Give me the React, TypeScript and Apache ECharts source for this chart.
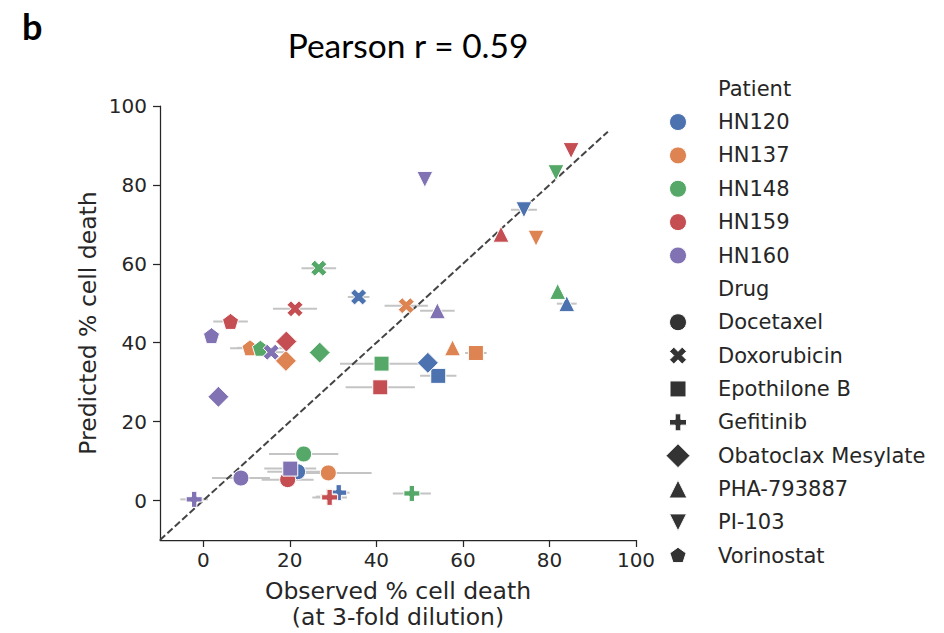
import React, { useEffect, useRef } from "react";
import * as echarts from "echarts";

// ---------------- data ----------------
const patients = ["HN120", "HN137", "HN148", "HN159", "HN160"];
const drugs = [
  "Docetaxel",
  "Doxorubicin",
  "Epothilone B",
  "Gefitinib",
  "Obatoclax Mesylate",
  "PHA-793887",
  "PI-103",
  "Vorinostat",
];
const xTicks = [0, 20, 40, 60, 80, 100];
const yTicks = [0, 20, 40, 60, 80, 100];

// observed (x), predicted (y) and horizontal error (± x) per drug, in the order of `drugs`
const hn120Observed = [21.8, 35.9, 54.3, 31.3, 51.9, 84.0, 74.1, null];
const hn120Predicted = [7.3, 51.6, 31.6, 2.0, 34.9, 49.9, 73.7, null];
const hn120Error = [7, 2.5, 4.2, 2.5, 0, 2.3, 3, 0];

const hn137Observed = [28.9, 46.9, 63.0, 29.0, 19.1, 57.6, 76.9, 10.8];
const hn137Predicted = [7.0, 49.4, 37.4, 1.0, 35.4, 38.7, 66.5, 38.7];
const hn137Error = [10, 5, 2.5, 3, 0, 0, 0, 3];

const hn148Observed = [23.2, 26.7, 41.2, 48.2, 26.9, 81.9, 81.5, 13.2];
const hn148Predicted = [11.8, 58.9, 34.7, 1.8, 37.5, 53.0, 83.1, 38.6];
const hn148Error = [8, 4, 9.6, 4.4, 0, 0, 1, 7];

const hn159Observed = [19.5, 21.2, 40.9, 29.2, 19.2, 68.8, 85.0, 6.3];
const hn159Predicted = [5.3, 48.6, 28.7, 0.8, 40.3, 67.5, 88.7, 45.4];
const hn159Error = [6, 5.1, 8, 4, 0, 0, 0, 4];

const hn160Observed = [8.7, 15.7, 20.1, -2.1, 3.5, 54.1, 51.2, 1.9];
const hn160Predicted = [5.7, 37.6, 8.1, 0.3, 26.3, 48.1, 81.4, 41.8];
const hn160Error = [6.7, 3, 6, 3.2, 0, 4, 0, 1];

const observedByPatient = [hn120Observed, hn137Observed, hn148Observed, hn159Observed, hn160Observed];
const predictedByPatient = [hn120Predicted, hn137Predicted, hn148Predicted, hn159Predicted, hn160Predicted];
const errorByPatient = [hn120Error, hn137Error, hn148Error, hn159Error, hn160Error];

const identityLine = [-10, 93.5];

// ---------------- styles ----------------
const patientColors = ["#4C72B0", "#DD8452", "#55A868", "#C44E52", "#8172B3"];
const pentagon: number[][] = [0, 1, 2, 3, 4].map((k) => {
  const a = ((-90 + k * 72) * Math.PI) / 180;
  return [Math.cos(a), Math.sin(a)];
});
// unit polygons (null = circle), in [-1,1] box, y down
const drugShapes: (number[][] | null)[] = [
  null,
  [[-1, -2], [0, -1], [1, -2], [2, -1], [1, 0], [2, 1], [1, 2], [0, 1], [-1, 2], [-2, 1], [-1, 0], [-2, -1]].map(([a, b]) => [a / 2, b / 2]),
  [[-1, -1], [1, -1], [1, 1], [-1, 1]],
  [[-1, -3], [1, -3], [1, -1], [3, -1], [3, 1], [1, 1], [1, 3], [-1, 3], [-1, 1], [-3, 1], [-3, -1], [-1, -1]].map(([a, b]) => [a / 3, b / 3]),
  [[0, -1], [1, 0], [0, 1], [-1, 0]],
  [[0, -1], [1, 1], [-1, 1]],
  [[-1, -1], [1, -1], [0, 1]],
  pentagon,
];
const drugSizes = [16, 16, 15, 16, 21, 16, 16, 16];
const legendSizes = [17, 17, 16, 17, 24, 18, 17, 17];

function symbolFor(i: number): string {
  const s = drugShapes[i];
  if (!s) return "circle";
  return "path://M" + s.map((p) => p[0].toFixed(3) + "," + p[1].toFixed(3)).join(" L") + " Z";
}

const FONT = "DejaVu Sans";
const DARK = "#262626";

export default function App() {
  const ref = useRef<HTMLDivElement>(null);
  useEffect(() => {
    if (!ref.current) return;
    const chart = echarts.init(ref.current, undefined, { renderer: "svg" });

    const scatterSeries = patients.map((p, pi) => ({
      type: "scatter",
      name: p,
      z: 3,
      data: drugs
        .map((d, di) => {
          const x = observedByPatient[pi][di];
          const y = predictedByPatient[pi][di];
          if (x === null || y === null) return null;
          return {
            name: d,
            value: [x, y],
            symbol: symbolFor(di),
            symbolSize: drugSizes[di],
          };
        })
        .filter((v) => v !== null),
      itemStyle: { color: patientColors[pi], borderColor: "#ffffff", borderWidth: 1, opacity: 1 },
    }));

    const errData: number[][] = [];
    patients.forEach((p, pi) => {
      drugs.forEach((d, di) => {
        const x = observedByPatient[pi][di];
        const y = predictedByPatient[pi][di];
        const e = errorByPatient[pi][di];
        if (x !== null && y !== null && e > 0) errData.push([x, y, e]);
      });
    });

    const graphics: any[] = [
      {
        type: "text",
        left: 22,
        top: 8,
        style: { text: "b", font: "bold 36px Lato", fill: "#000" },
      },
      {
        type: "text",
        x: 408,
        y: 45,
        style: { text: "Pearson r = 0.59", font: "33.5px Lato", fill: "#000", textAlign: "center", textVerticalAlign: "middle" },
      },
      {
        type: "text",
        x: 398,
        y: 591,
        style: { text: "Observed % cell death", font: `23.5px '${FONT}'`, fill: DARK, textAlign: "center", textVerticalAlign: "middle" },
      },
      {
        type: "text",
        x: 398,
        y: 617,
        style: { text: "(at 3-fold dilution)", font: `23.5px '${FONT}'`, fill: DARK, textAlign: "center", textVerticalAlign: "middle" },
      },
      {
        type: "text",
        x: 88,
        y: 323,
        rotation: Math.PI / 2,
        style: { text: "Predicted % cell death", font: `23.5px '${FONT}'`, fill: DARK, textAlign: "center", textVerticalAlign: "middle" },
      },
    ];

    // legend
    const lx = 678;
    const tx = 718;
    const ly0 = 88.7;
    const lstep = 33.36;
    const rows: { label: string; kind: "header" | "patient" | "drug"; idx: number }[] = [
      { label: "Patient", kind: "header", idx: -1 },
      ...patients.map((p, i) => ({ label: p, kind: "patient" as const, idx: i })),
      { label: "Drug", kind: "header", idx: -1 },
      ...drugs.map((d, i) => ({ label: d, kind: "drug" as const, idx: i })),
    ];
    rows.forEach((r, i) => {
      const cy = ly0 + i * lstep;
      graphics.push({
        type: "text",
        x: tx,
        y: cy,
        style: { text: r.label, font: `21px '${FONT}'`, fill: DARK, textAlign: "left", textVerticalAlign: "middle" },
      });
      if (r.kind === "patient") {
        graphics.push({
          type: "circle",
          shape: { cx: lx, cy, r: 8.5 },
          style: { fill: patientColors[r.idx], stroke: "#fff", lineWidth: 1 },
        });
      } else if (r.kind === "drug") {
        const s = drugShapes[r.idx];
        const sz = legendSizes[r.idx];
        if (!s) {
          graphics.push({ type: "circle", shape: { cx: lx, cy, r: sz / 2 }, style: { fill: "#333", stroke: "#fff", lineWidth: 1 } });
        } else {
          graphics.push({
            type: "polygon",
            shape: { points: s.map((p) => [lx + (p[0] * sz) / 2, cy + (p[1] * sz) / 2]) },
            style: { fill: "#333", stroke: "#fff", lineWidth: 1 },
          });
        }
      }
    });

    const axisCommon = {
      type: "value",
      min: -10,
      max: 100,
      splitLine: { show: false },
      axisLine: { show: true, onZero: false, lineStyle: { color: DARK, width: 1.25 } },
      axisTick: { show: true, inside: false, length: 7, lineStyle: { color: DARK, width: 1.25 } },
    };

    chart.setOption({
      animation: false,
      backgroundColor: "#ffffff",
      grid: { left: 160, top: 106, right: 308, bottom: 93, containLabel: false },
      xAxis: {
        ...axisCommon,
        axisTick: { ...axisCommon.axisTick, customValues: xTicks },
        axisLabel: { customValues: xTicks, color: DARK, fontFamily: FONT, fontSize: 20, margin: 10 },
      },
      yAxis: {
        ...axisCommon,
        axisTick: { ...axisCommon.axisTick, customValues: yTicks },
        axisLabel: { customValues: yTicks, color: DARK, fontFamily: FONT, fontSize: 20, margin: 13 },
      },
      graphic: graphics,
      series: [
        {
          type: "custom",
          z: 1,
          data: errData,
          encode: { x: 0, y: 1 },
          renderItem: (params: any, api: any) => {
            const x = api.value(0);
            const y = api.value(1);
            const e = api.value(2);
            const p1 = api.coord([x - e, y]);
            const p2 = api.coord([x + e, y]);
            return {
              type: "line",
              shape: { x1: p1[0], y1: p1[1], x2: p2[0], y2: p2[1] },
              style: { stroke: "#c4c4c4", lineWidth: 2 },
            };
          },
        },
        {
          type: "line",
          z: 2,
          data: [
            [identityLine[0], identityLine[0]],
            [identityLine[1], identityLine[1]],
          ],
          showSymbol: false,
          symbol: "none",
          lineStyle: { color: "#444444", width: 2, type: [7, 3] },
        },
        ...scatterSeries,
      ],
    });
    return () => chart.dispose();
  }, []);
  return <div ref={ref} style={{ position: "fixed", left: 0, top: 0, width: 944, height: 633 }} />;
}
